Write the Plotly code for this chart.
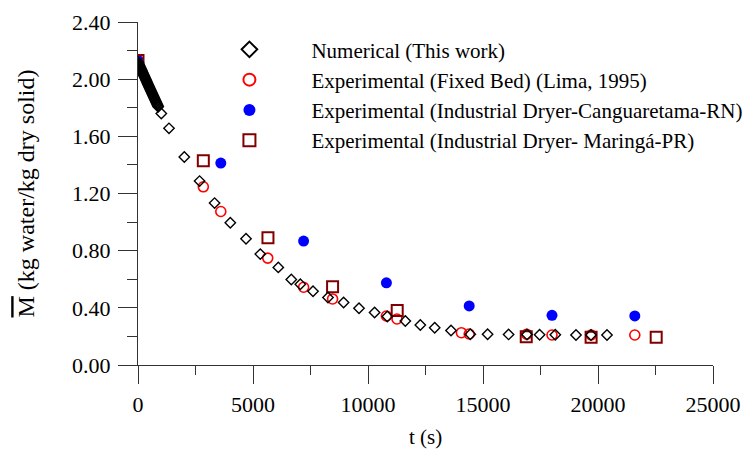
import plotly.graph_objects as go

# Numerical (This work)
t_num = [0, 20, 40, 60, 80, 100, 120, 140, 160, 180, 200, 220, 240, 260, 280, 300,
         320, 340, 360, 380, 400, 420, 440, 460, 480, 500, 520, 540, 560, 580, 600,
         620, 640, 660, 680, 700, 720, 740, 760, 780, 800, 820, 840, 860, 880,
         1013, 1348, 2013, 2678, 3330, 4013, 4696,
         5317, 6100, 6665, 7057, 7609, 8261, 8939, 9609, 10287, 10839, 11622, 12274,
         12900, 13609, 14448, 15200, 16113, 16913, 17461, 18143, 19043, 19696, 20391]
m_num = [2.120, 2.113, 2.105, 2.098, 2.091, 2.084, 2.076, 2.069, 2.062,
         2.055, 2.047, 2.040, 2.033, 2.026, 2.018, 2.011, 2.004, 1.997,
         1.990, 1.983, 1.975, 1.968, 1.961, 1.954, 1.947, 1.940, 1.933,
         1.926, 1.919, 1.912, 1.905, 1.898, 1.891, 1.884, 1.877, 1.870,
         1.863, 1.856, 1.849, 1.842, 1.835, 1.828, 1.821, 1.814, 1.807,
         1.76, 1.656, 1.455, 1.287, 1.133, 0.995, 0.883, 0.776, 0.683, 0.598, 0.565,
         0.516, 0.472, 0.437, 0.397, 0.367, 0.339, 0.308, 0.280, 0.261, 0.241, 0.215,
         0.215, 0.214, 0.213, 0.212, 0.212, 0.210, 0.210, 0.210]

# Experimental (Fixed Bed) (Lima, 1995)
t_fixed = [0, 2840, 3600, 5640, 7200, 8460, 10800, 11260, 14060, 14400, 16900, 18000, 19700, 21600]
m_fixed = [2.13, 1.247, 1.074, 0.748, 0.544, 0.462, 0.343, 0.322, 0.226, 0.217, 0.215, 0.210, 0.210, 0.210]

# Experimental (Industrial Dryer-Canguaretama-RN)
t_cang = [0, 3600, 7200, 10800, 14400, 18000, 21600]
m_cang = [2.13, 1.413, 0.867, 0.575, 0.413, 0.348, 0.343]

# Experimental (Industrial Dryer- Maringá-PR)
t_mar = [0, 2840, 5650, 8460, 11270, 16880, 19700, 22530]
m_mar = [2.13, 1.43, 0.89, 0.547, 0.381, 0.198, 0.194, 0.194]

names = ["Numerical (This work)",
         "Experimental (Fixed Bed) (Lima, 1995)",
         "Experimental (Industrial Dryer-Canguaretama-RN)",
         "Experimental (Industrial Dryer- Maringá-PR)"]

x_ticks = [0, 5000, 10000, 15000, 20000, 25000]
y_ticks = [0.0, 0.4, 0.8, 1.2, 1.6, 2.0, 2.4]

FONT = "Liberation Serif, Times New Roman, serif"
PAD = "\u00a0" * 8

fig = go.Figure()
fig.add_trace(go.Scatter(
    x=t_fixed, y=m_fixed, mode="markers", name=PAD + names[1], legendrank=2,
    legendgroup="b",
    marker=dict(symbol="circle-open", size=10, color="#FF0000", line=dict(width=1.6, color="#FF0000"))))
fig.add_trace(go.Scatter(
    x=t_cang, y=m_cang, mode="markers", name=PAD + names[2], legendrank=3,
    legendgroup="c",
    marker=dict(symbol="circle", size=11, color="#0000FF", line=dict(width=0))))
fig.add_trace(go.Scatter(
    x=t_mar, y=m_mar, mode="markers", name=PAD + names[3], legendrank=4,
    legendgroup="d",
    marker=dict(symbol="square-open", size=11, color="#800000", line=dict(width=2, color="#800000"))))
fig.add_trace(go.Scatter(
    x=t_num, y=m_num, mode="markers", name=PAD + names[0], legendrank=1,
    legendgroup="a",
    marker=dict(symbol="diamond-open", size=8, color="#000000", line=dict(width=1.4, color="#000000"))))

axis_common = dict(
    showgrid=False, zeroline=False, showline=True, linecolor="#333333", linewidth=1,
    ticks="outside", tickcolor="#333333", tickwidth=1, mirror=False, automargin=False,
    tickfont=dict(family=FONT, size=22, color="#000000"),
)

fig.update_xaxes(
    range=[0, 25000], tickvals=x_ticks, ticktext=[str(v) for v in x_ticks], ticklen=18,
    ticklabelstandoff=2,
    minor=dict(dtick=2500, ticks="outside", ticklen=9, tickcolor="#333333", tickwidth=1),
    title=dict(text="t (s)", font=dict(family=FONT, size=21, color="#000000"), standoff=12),
    **axis_common)
fig.update_yaxes(
    range=[0, 2.4], tickvals=y_ticks, ticktext=[f"{v:.2f}" for v in y_ticks], ticklen=19,
    ticklabelstandoff=3,
    minor=dict(dtick=0.2, ticks="outside", ticklen=10, tickcolor="#333333", tickwidth=1),
    title=dict(text="<span style='text-decoration:overline'>M</span> (kg water/kg dry solid)",
               font=dict(family=FONT, size=24, color="#000000"), standoff=30),
    **axis_common)

fig.update_layout(
    width=749, height=453,
    margin=dict(l=138, r=36, t=22, b=88, autoexpand=False),
    paper_bgcolor="white", plot_bgcolor="white",
    showlegend=True,
    legend=dict(x=0.159, y=0.979, xanchor="left", yanchor="top",
                bgcolor="rgba(0,0,0,0)", borderwidth=0,
                font=dict(family=FONT, size=21, color="#000000"),
                traceorder="grouped", tracegroupgap=0, itemsizing="constant"),
    font=dict(family=FONT, color="#000000"),
)

fig.write_html("out.html", config={"displayModeBar": False},
               post_script="document.body.style.margin='0';document.body.style.padding='0';")
